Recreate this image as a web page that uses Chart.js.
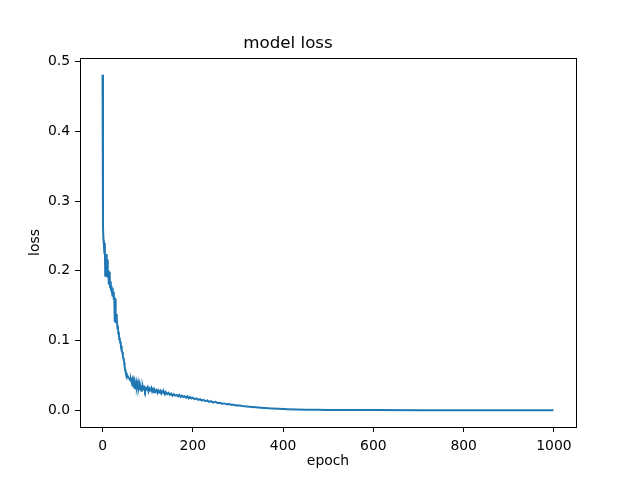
<!DOCTYPE html>
<html>
<head>
<meta charset="utf-8">
<script src="https://cdn.jsdelivr.net/npm/chart.js@4/dist/chart.umd.min.js"></script>
<style>
  body { margin: 0; background: #fff; }
  canvas { display: block; }
</style>
</head>
<body>
<canvas id="c" width="640" height="480"></canvas>
<script>
// model loss per epoch
const epochs = [
  0, 1, 2, 3, 4, 5, 6, 7, 8, 9, 10, 11, 12, 13, 14, 15, 16, 17, 18, 19,
  20, 21, 22, 23, 24, 25, 26, 27, 28, 29, 30, 31, 32, 33, 34, 35, 36, 37, 38, 39,
  40, 41, 42, 43, 44, 45, 46, 47, 48, 49, 50, 51, 52, 53, 55, 57, 59, 61, 63, 65,
  66, 67, 68, 69, 70, 71, 72, 73, 74, 75, 76, 77, 78, 79, 80, 81, 82, 83, 84, 85,
  86, 87, 88, 89, 90, 92, 94, 96, 98, 100, 102, 104, 106, 108, 110, 112, 114, 116, 118, 120,
  122, 124, 126, 128, 130, 132, 134, 136, 138, 140, 143, 146, 149, 152, 155, 158, 161, 164, 167, 170,
  173, 176, 179, 182, 185, 188, 191, 194, 197, 200, 204, 208, 212, 216, 220, 224, 228, 232, 236, 240,
  245, 250, 255, 260, 265, 270, 275, 280, 285, 290, 295, 300, 310, 320, 330, 340, 350, 360, 375, 390,
  410, 430, 450, 475, 500, 550, 600, 700, 800, 900, 999
];
const loss = [
  0.481, 0.262, 0.245, 0.238, 0.226, 0.240, 0.193, 0.222, 0.205, 0.224, 0.198, 0.216, 0.190, 0.200, 0.180, 0.198, 0.183, 0.176, 0.185, 0.172,
  0.178, 0.168, 0.175, 0.163, 0.170, 0.158, 0.162, 0.127, 0.160, 0.125, 0.138, 0.128, 0.131, 0.118, 0.121, 0.110, 0.112, 0.102, 0.104, 0.097,
  0.099, 0.090, 0.092, 0.085, 0.083, 0.078, 0.075, 0.072, 0.068, 0.063, 0.058, 0.055, 0.054, 0.052, 0.050, 0.047, 0.046, 0.043, 0.044, 0.039,
  0.042, 0.036, 0.040, 0.033, 0.038, 0.031, 0.037, 0.035, 0.030, 0.038, 0.033, 0.036, 0.031, 0.037, 0.032, 0.035, 0.029, 0.036, 0.031, 0.034,
  0.028, 0.035, 0.030, 0.034, 0.031, 0.033, 0.028, 0.032, 0.030, 0.033, 0.027, 0.031, 0.029, 0.032, 0.027, 0.030, 0.026, 0.029, 0.027, 0.029,
  0.025, 0.028, 0.026, 0.028, 0.024, 0.027, 0.025, 0.026, 0.023, 0.026, 0.023, 0.025, 0.022, 0.024, 0.021, 0.023, 0.021, 0.022, 0.020, 0.022,
  0.019, 0.021, 0.019, 0.020, 0.018, 0.020, 0.017, 0.019, 0.017, 0.018, 0.016, 0.017, 0.015, 0.016, 0.014, 0.015, 0.013, 0.014, 0.012, 0.013,
  0.011, 0.012, 0.0105, 0.0108, 0.0095, 0.0098, 0.0085, 0.0088, 0.0078, 0.0079, 0.0070, 0.0072, 0.0062, 0.0055, 0.0048, 0.0042, 0.0037, 0.0032, 0.0026, 0.0021,
  0.0016, 0.0012, 0.0009, 0.0007, 0.0005, 0.0003, 0.0002, 0.0001, 0.00007, 0.00005, 0.00004
];
const xTicks = [0, 200, 400, 600, 800, 1000];
const yTicks = [0.0, 0.1, 0.2, 0.3, 0.4, 0.5];

const FONT = "'DejaVu Sans', sans-serif";
Chart.defaults.color = "#000";
Chart.defaults.font.family = FONT;

// matplotlib-style frame around the plot area
const framePlugin = {
  id: "frame",
  afterDraw(chart) {
    const { ctx, chartArea: a } = chart;
    ctx.save();
    ctx.strokeStyle = "#000";
    ctx.lineWidth = 1;
    ctx.strokeRect(Math.round(a.left) + 0.5, Math.round(a.top) + 0.5,
      Math.round(a.right - a.left), Math.round(a.bottom - a.top));
    ctx.restore();
  },
};

new Chart(document.getElementById("c"), {
  type: "line",
  data: {
    datasets: [{
      label: "loss",
      data: epochs.map((e, i) => ({ x: e, y: loss[i] })),
      borderColor: "#1f77b4",
      borderWidth: 2,
      pointRadius: 0,
      tension: 0,
      fill: false,
    }],
  },
  options: {
    responsive: false,
    animation: false,
    devicePixelRatio: 1,
    layout: { padding: { left: 0, right: 64, top: 0, bottom: 0 } },
    plugins: {
      legend: { display: false },
      tooltip: { enabled: false },
      title: {
        display: true,
        text: "model loss",
        font: { size: 16.7, weight: "normal", family: FONT },
        padding: { top: 34, bottom: 4 },
      },
    },
    scales: {
      x: {
        type: "linear",
        min: -49.95,
        max: 1048.95,
        afterFit: (s) => { s.height = 53; },
        afterBuildTicks: (s) => { s.ticks = xTicks.map((v) => ({ value: v })); },
        ticks: { font: { size: 13.9 }, padding: 6, maxRotation: 0, callback: (v) => String(v) },
        grid: { drawOnChartArea: false, drawTicks: true, tickLength: 5, color: "#000" },
        border: { display: false },
        title: { display: true, text: "epoch", font: { size: 13.9 }, padding: { top: 0, bottom: 10 } },
      },
      y: {
        type: "linear",
        min: -0.024,
        max: 0.505,
        afterFit: (s) => { s.width = 80; },
        afterBuildTicks: (s) => { s.ticks = yTicks.map((v) => ({ value: v })); },
        ticks: { font: { size: 13.9 }, padding: 5, callback: (v) => v.toFixed(1) },
        grid: { drawOnChartArea: false, drawTicks: true, tickLength: 5, color: "#000" },
        border: { display: false },
        title: { display: true, text: "loss", font: { size: 13.9 }, padding: { top: 27, bottom: 0 } },
      },
    },
  },
  plugins: [framePlugin],
});
</script>
</body>
</html>
